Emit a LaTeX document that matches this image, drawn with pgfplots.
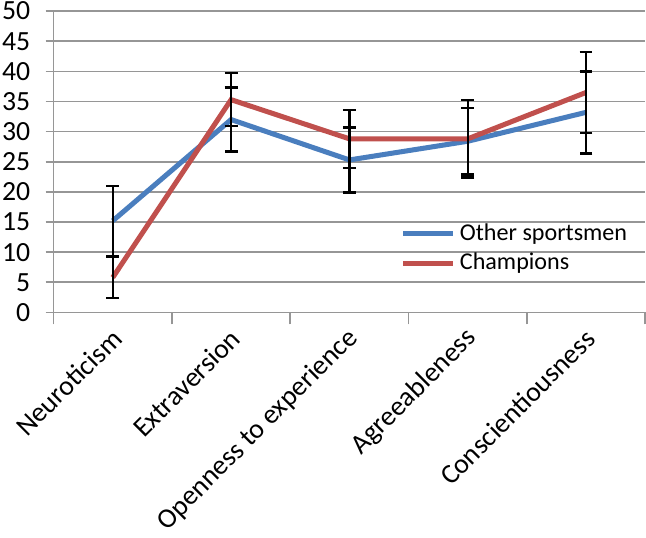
\documentclass[border=0pt]{standalone}
\usepackage{pgfplots}
\pgfplotsset{compat=1.18}
\usepackage{fontspec}
\setmainfont{Carlito}
\definecolor{excelblue}{RGB}{74,126,190}
\definecolor{excelred}{RGB}{192,80,77}
\definecolor{gridgray}{RGB}{150,150,150}

% mean and sd per trait, 0..4 = Neuroticism .. Conscientiousness
\pgfplotstableread{
x  y     e
0  15.2  5.8
1  32.0  5.3
2  25.3  5.4
3  28.4  5.5
4  33.2  6.8
}\others
\pgfplotstableread{
x  y     e
0  5.8   3.4
1  35.3  4.4
2  28.8  4.8
3  28.8  6.4
4  36.5  6.7
}\champs

\begin{document}
\begin{tikzpicture}
\begin{axis}[
    scale only axis,
    width=294.5pt, height=150pt,
    xmin=-0.5, xmax=4.5, ymin=0, ymax=50,
    axis x line*=bottom, axis y line*=left,
    axis line style={draw=gridgray, line width=0.8pt, -},
    ytick={0,5,...,50},
    ymajorgrids,
    grid style={gridgray, line width=0.8pt},
    xtick={0,...,4},
    xticklabels={Neuroticism, Extraversion, Openness to experience, Agreeableness, Conscientiousness},
    minor xtick={-0.5,0.5,...,4.5},
    tick align=outside,
    major tick length=4pt,
    minor tick length=6pt,
    tick style={gridgray, line width=0.8pt},
    major x tick style={draw=none},
    tick label style={font=\fontsize{13.8}{16}\selectfont},
    xticklabel style={xshift=3pt, rotate=45, anchor=east, inner sep=1pt},
    xticklabel shift=6pt,
    yticklabel style={inner sep=1pt, xshift=-6.5pt},
    /pgf/number format/assume math mode=true,
    legend style={draw=none, fill=none, at={(rel axis cs:0.586,0.31)}, anchor=north west,
        font=\fontsize{12}{14}\selectfont, row sep=1pt, inner sep=0pt,
        /tikz/every even column/.append style={column sep=0pt}},
    legend cell align=left,
    legend image code/.code={\draw[#1, line width=2.5pt] (0pt,0pt) -- (25pt,0pt);},
]
\addplot[excelblue, line width=2.5pt, no markers,
    error bars/.cd, y dir=both, y explicit,
    error bar style={black, line width=1.2pt},
    error mark options={rotate=90, mark size=3.2pt, black, line width=1.2pt}]
    table[x=x, y=y, y error=e] {\others};
\addlegendentry{Other sportsmen}
\addplot[excelred, line width=2.5pt, no markers,
    error bars/.cd, y dir=both, y explicit,
    error bar style={black, line width=1.2pt},
    error mark options={rotate=90, mark size=3.2pt, black, line width=1.2pt}]
    table[x=x, y=y, y error=e] {\champs};
\addlegendentry{Champions}
\end{axis}
\end{tikzpicture}
\end{document}
